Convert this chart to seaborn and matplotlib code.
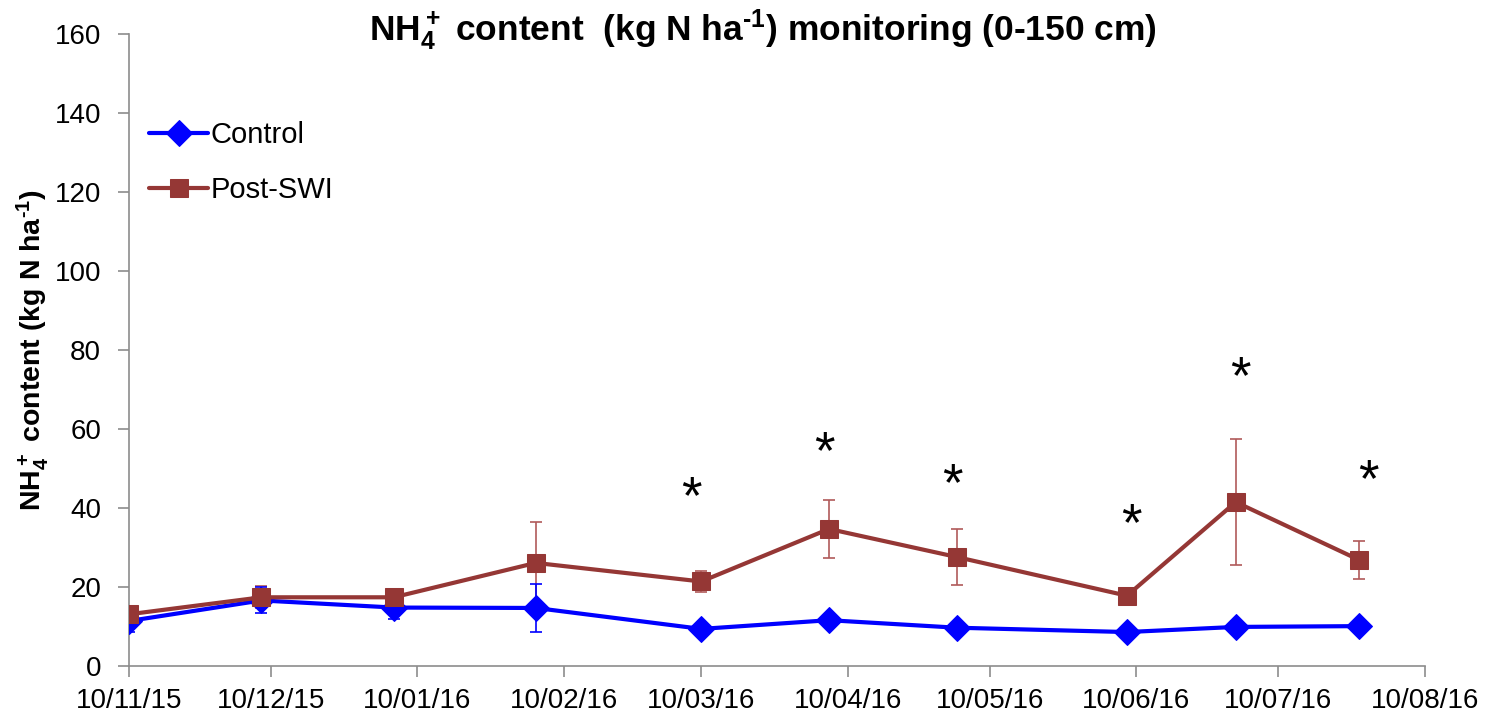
import pandas as pd
import matplotlib
matplotlib.use("Agg")
import matplotlib.pyplot as plt
import matplotlib.dates as mdates
import seaborn as sns

# ─────────────────────────────────────────────
# DATA
# ─────────────────────────────────────────────
DATES = ["2015-11-10", "2015-12-08", "2016-01-05", "2016-02-04", "2016-03-10",
         "2016-04-06", "2016-05-03", "2016-06-08", "2016-07-01", "2016-07-27"]
CONTROL     = [11.4, 16.6, 14.8, 14.7, 9.4, 11.6, 9.7, 8.6, 9.9, 10.1]
CONTROL_ERR = [2.8, 3.3, 2.8, 6.0, 0.8, 1.0, 0.8, 0.6, 1.5, 0.8]
POST_SWI     = [13.1, 17.4, 17.4, 26.1, 21.4, 34.7, 27.6, 17.8, 41.5, 26.9]
POST_SWI_ERR = [1.0, 2.8, 1.0, 10.3, 2.7, 7.4, 7.1, 2.0, 16.0, 4.8]

# significance stars (date, y)
STAR_DATES = ["2016-03-08", "2016-04-05", "2016-05-02", "2016-06-09", "2016-07-02", "2016-07-29"]
STAR_Y     = [44.7, 56.1, 48.0, 38.0, 75.0, 49.0]

TICK_DATES = ["2015-11-10", "2015-12-10", "2016-01-10", "2016-02-10", "2016-03-10",
              "2016-04-10", "2016-05-10", "2016-06-10", "2016-07-10", "2016-08-10"]

BLUE = "#0000FF"
RED  = "#953735"
RED_ERR = "#B05A5A"
GREY = "#8C8C8C"

df = pd.DataFrame({
    "date": pd.to_datetime(DATES),
    "control": CONTROL, "control_err": CONTROL_ERR,
    "post": POST_SWI, "post_err": POST_SWI_ERR,
})

sns.set_style("ticks")
plt.rcParams["font.family"] = ["Liberation Sans", "DejaVu Sans"]
plt.rcParams["mathtext.default"] = "regular"
plt.rcParams["text.color"] = "black"

fig = plt.figure(figsize=(14.89, 7.16), dpi=100)
ax = fig.add_axes([0.0866, 0.0698, 0.8704, 0.8827])

# error bars
ax.errorbar(df["date"], df["post"], yerr=df["post_err"], fmt="none",
            ecolor=RED_ERR, elinewidth=1.2, capsize=4, capthick=1.2, zorder=2)
ax.errorbar(df["date"], df["control"], yerr=df["control_err"], fmt="none",
            ecolor=BLUE, elinewidth=1.2, capsize=4, capthick=1.2, zorder=2)

sns.lineplot(data=df, x="date", y="control", ax=ax, color=BLUE, marker="D",
             markersize=13, markeredgecolor=BLUE, linewidth=3, label="Control", zorder=3)
sns.lineplot(data=df, x="date", y="post", ax=ax, color=RED, marker="s",
             markersize=12.5, markeredgecolor=RED, linewidth=3, label="Post-SWI", zorder=4)

for d, y in zip(pd.to_datetime(STAR_DATES), STAR_Y):
    ax.annotate("*", xy=(d, y), xytext=(0, -7), textcoords="offset points",
                ha="center", va="center", fontsize=38, color="black")

ax.set_xlim(pd.Timestamp("2015-11-10"), pd.Timestamp("2016-08-10"))
ax.set_ylim(0, 160)
ax.set_yticks(range(0, 161, 20))
ax.set_xticks(pd.to_datetime(TICK_DATES))
ax.xaxis.set_major_formatter(mdates.DateFormatter("%d/%m/%y"))

ax.tick_params(axis="both", labelsize=20, colors=GREY, labelcolor="black",
               length=8, width=1.2, direction="out")
ax.tick_params(axis="x", pad=8)
ax.tick_params(axis="y", pad=12)
for side in ["top", "right"]:
    ax.spines[side].set_visible(False)
for side in ["left", "bottom"]:
    ax.spines[side].set_color(GREY)
    ax.spines[side].set_linewidth(1.2)

ax.set_xlabel("")
ax.set_ylabel("NH$_4^+$ content (kg N ha$^{\u20101}$)", fontsize=20.5, fontweight="bold",
              labelpad=3, color="black")
ax.set_title("NH$_4^+$ content  (kg N ha$^{\u20101}$) monitoring (0-150 cm)",
             fontsize=25.5, fontweight="bold", x=0.489, y=1.006, pad=0, va="center",
             color="black")

ax.legend(loc="upper left", bbox_to_anchor=(0.0, 0.895), frameon=False, fontsize=21,
          handlelength=2.0, handletextpad=0.1, labelspacing=0.95, borderaxespad=0.3)

fig.savefig("out.png", dpi=100)
